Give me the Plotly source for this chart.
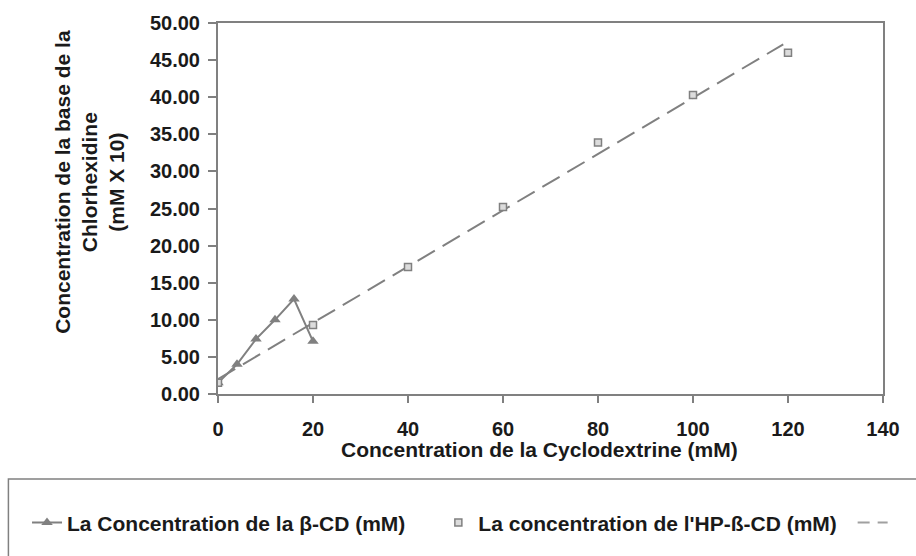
import numpy as np
import plotly.graph_objects as go

# Data
beta_x = [0, 4, 8, 12, 16, 20]
beta_y = [1.5, 4.0, 7.4, 10.0, 12.8, 7.1]
hp_x = [0, 20, 40, 60, 80, 100, 120]
hp_y = [1.5, 9.3, 17.1, 25.2, 33.9, 40.3, 46.0]
name_beta = "La Concentration de la β-CD (mM)"
name_hp = "La concentration de l'HP-ß-CD (mM)"
x_title = "Concentration de la Cyclodextrine (mM)"
y_title = "Concentration de la base de la<br>Chlorhexidine<br>(mM X 10)"

slope, intercept = np.polyfit(hp_x, hp_y, 1)
trend_x = [0, 119]
trend_y = [intercept + slope * v for v in trend_x]

GRAY = "#808080"
INK = "#1a1a1a"
FONT = "Liberation Sans"

W, H = 916, 556
L, R, T, B = 218, 19, 23, 153
pw, ph = W - L - R, H - T - B


def px(xp):
    return (xp - L) / pw


def py(yp):
    return (H - B - yp) / ph


fig = go.Figure()
fig.add_trace(go.Scatter(
    x=trend_x, y=trend_y, mode="lines", showlegend=False,
    line=dict(color=GRAY, width=2, dash="20px,9px")))
fig.add_trace(go.Scatter(
    x=beta_x, y=beta_y, mode="lines+markers", name=name_beta,
    line=dict(color=GRAY, width=2),
    marker=dict(symbol="triangle-up", size=10, color=GRAY),
    legend="legend"))
fig.add_trace(go.Scatter(
    x=hp_x, y=hp_y, mode="markers", name=name_hp,
    marker=dict(symbol="square", size=7, color="#dcdcdc",
                line=dict(color=GRAY, width=1.5)),
    legend="legend2"))
# legend-only entry for the trend line
fig.add_trace(go.Scatter(
    x=[None], y=[None], mode="lines", name=" ",
    line=dict(color="#a0a0a0", width=2, dash="12px,8px"),
    legend="legend3"))

legend_common = dict(orientation="h", bgcolor="rgba(0,0,0,0)",
                     font=dict(family=FONT, size=21, color=INK, weight="bold"),
                     xanchor="left", yanchor="middle", y=py(535))

fig.update_layout(
    width=W, height=H,
    margin=dict(l=L, r=R, t=T, b=B),
    plot_bgcolor="white", paper_bgcolor="white",
    font=dict(family=FONT, color=INK),
    showlegend=True,
    legend=dict(**legend_common, x=px(23)),
    legend2=dict(**legend_common, x=px(443)),
    legend3=dict(**legend_common, x=px(866)),
    xaxis=dict(range=[0, 140], dtick=20, tick0=0,
               showgrid=False, zeroline=False,
               showline=True, linecolor=GRAY, linewidth=2, mirror=True,
               ticks="outside", ticklen=7, tickcolor=GRAY, tickwidth=1.5,
               ticklabelstandoff=9,
               tickfont=dict(family=FONT, size=20, color=INK, weight="bold")),
    yaxis=dict(range=[0, 50], dtick=5, tick0=0, tickformat=".2f",
               showgrid=False, zeroline=False,
               showline=True, linecolor=GRAY, linewidth=2, mirror=True,
               ticks="outside", ticklen=8, tickcolor=GRAY, tickwidth=1.5,
               ticklabelstandoff=4,
               tickfont=dict(family=FONT, size=20, color=INK, weight="bold")),
    annotations=[
        dict(text=x_title, xref="paper", yref="paper", x=px(546), y=py(460),
             xanchor="center", yanchor="middle", showarrow=False,
             font=dict(family=FONT, size=21, color=INK, weight="bold")),
        dict(text=y_title, xref="paper", yref="paper", x=px(87), y=py(186),
             xanchor="center", yanchor="middle", showarrow=False, textangle=-90,
             font=dict(family=FONT, size=21, color=INK, weight="bold")),
    ],
    shapes=[dict(type="rect", xref="paper", yref="paper",
                 x0=px(4), x1=px(940), y0=py(490), y1=py(580),
                 line=dict(color=GRAY, width=1.5), fillcolor="rgba(0,0,0,0)")],
)

fig.write_html("out.html")
